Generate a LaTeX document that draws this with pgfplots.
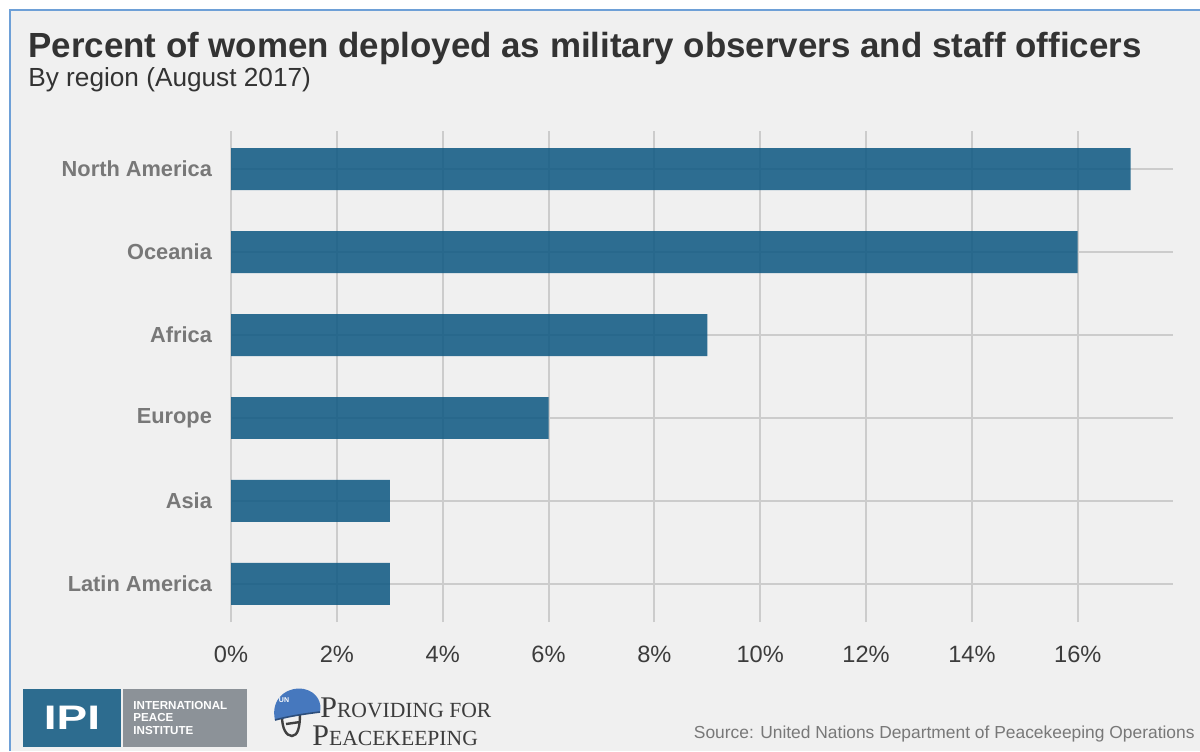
\documentclass[border=0pt]{standalone}
\usepackage{pgfplots}
\pgfplotsset{compat=1.18}
\usepackage{fontspec}
\setmainfont{Liberation Sans}
\newfontfamily\seriffont{Liberation Serif}
\definecolor{bg}{RGB}{240,240,240}
\definecolor{framec}{RGB}{110,160,215}
\definecolor{barc}{RGB}{12,87,129}
\definecolor{gridc}{RGB}{204,204,204}
\definecolor{titlec}{RGB}{51,51,51}
\definecolor{ylabc}{RGB}{120,120,120}
\definecolor{xlabc}{RGB}{60,60,60}
\definecolor{ipiblue}{RGB}{45,108,143}
\definecolor{ipigray}{RGB}{140,146,152}
\definecolor{helmet}{RGB}{70,120,190}
\begin{document}
\begin{tikzpicture}
\useasboundingbox (0,0) rectangle (600pt,-375.5pt);
\fill[white] (0,0) rectangle (600pt,-375.5pt);
\fill[bg] (5pt,-5pt) rectangle (600pt,-375.5pt);
\draw[framec,line width=0.8pt] (5pt,-375.5pt) -- (5pt,-5pt) -- (600pt,-5pt);
\node[anchor=base west,inner sep=0,text=titlec,font=\fontsize{17.45pt}{19pt}\selectfont\bfseries] at (14pt,-28.5pt) {Percent of women deployed as military observers and staff officers};
\node[anchor=base west,inner sep=0,text=titlec,font=\fontsize{13.1pt}{15pt}\selectfont] at (14pt,-43pt) {By region (August 2017)};
\begin{axis}[
  at={(115.5pt,-311pt)}, anchor=south west,
  scale only axis, width=471pt, height=245.5pt,
  xmin=0, xmax=17.8, ymin=-0.46, ymax=5.46,
  xbar, bar width=0.506,
  axis line style={draw=none},
  major tick length=0pt,
  xtick={0,2,...,16},
  xticklabels={0\%,2\%,4\%,6\%,8\%,10\%,12\%,14\%,16\%},
  ytick={0,...,5},
  yticklabels={Latin America,Asia,Europe,Africa,Oceania,North America},
  xmajorgrids, ymajorgrids,
  grid style={gridc, line width=1pt},
  xticklabel style={text=xlabc, font=\fontsize{11.8pt}{13pt}\selectfont, yshift=-8.5pt},
  yticklabel style={text=ylabc, font=\fontsize{10.9pt}{12pt}\selectfont\bfseries, xshift=-6pt},
  /pgf/number format/assume math mode=true,
]
\addplot[draw=none, fill=barc, fill opacity=0.85] coordinates {(3,0) (3,1) (6,2) (9,3) (16,4) (17,5)};
\end{axis}
\node[anchor=base east,inner sep=0,text={rgb,255:red,120;green,120;blue,120},font=\fontsize{8.7pt}{10pt}\selectfont] at (597.5pt,-369pt) {Source: United Nations Department of Peacekeeping Operations};
% IPI logo
\fill[ipiblue] (11.5pt,-344.5pt) rectangle (60.5pt,-373.5pt);
\fill[ipigray] (61.5pt,-344.5pt) rectangle (123.5pt,-373.5pt);
\node[text=white,font=\fontsize{17pt}{18pt}\selectfont\bfseries,inner sep=0] at (36pt,-359pt) {\scalebox{1.35}[1]{IPI}};
\node[anchor=west,text=white,font=\fontsize{5.8pt}{6pt}\selectfont\bfseries,inner sep=0] at (66.5pt,-352.5pt) {INTERNATIONAL};
\node[anchor=west,text=white,font=\fontsize{5.8pt}{6pt}\selectfont\bfseries,inner sep=0] at (66.5pt,-358.7pt) {PEACE};
\node[anchor=west,text=white,font=\fontsize{5.8pt}{6pt}\selectfont\bfseries,inner sep=0] at (66.5pt,-365pt) {INSTITUTE};
% helmet
\draw[black!75,line width=1.2pt] (141pt,-358pt) .. controls (141pt,-364pt) and (143pt,-368pt) .. (146pt,-368pt) .. controls (149pt,-368pt) and (150pt,-363pt) .. (150pt,-357pt);
\draw[black!75,line width=1.2pt] (143pt,-362pt) -- (150pt,-361pt);
\fill[helmet] (137.5pt,-360pt) .. controls (135pt,-349pt) and (144pt,-343pt) .. (152pt,-344.5pt) .. controls (159pt,-346pt) and (161pt,-352pt) .. (160pt,-356pt) .. controls (152pt,-357pt) and (145pt,-358pt) .. (137.5pt,-360pt) -- cycle;
\draw[helmet!65!black,line width=0.8pt] (137.5pt,-360pt) .. controls (145pt,-358pt) and (152pt,-357pt) .. (160pt,-356pt);
\node[text=white,font=\fontsize{3.5pt}{4pt}\selectfont\bfseries,inner sep=0] at (142pt,-350pt) {UN};
\node[anchor=base west,inner sep=0,text=xlabc,font=\seriffont] at (160pt,-358.5pt) {{\fontsize{15pt}{16pt}\selectfont P}{\fontsize{10.8pt}{11pt}\selectfont ROVIDING FOR}};
\node[anchor=base west,inner sep=0,text=xlabc,font=\seriffont] at (156pt,-372.5pt) {{\fontsize{15pt}{16pt}\selectfont P}{\fontsize{10.8pt}{11pt}\selectfont EACEKEEPING}};
\end{tikzpicture}
\end{document}
